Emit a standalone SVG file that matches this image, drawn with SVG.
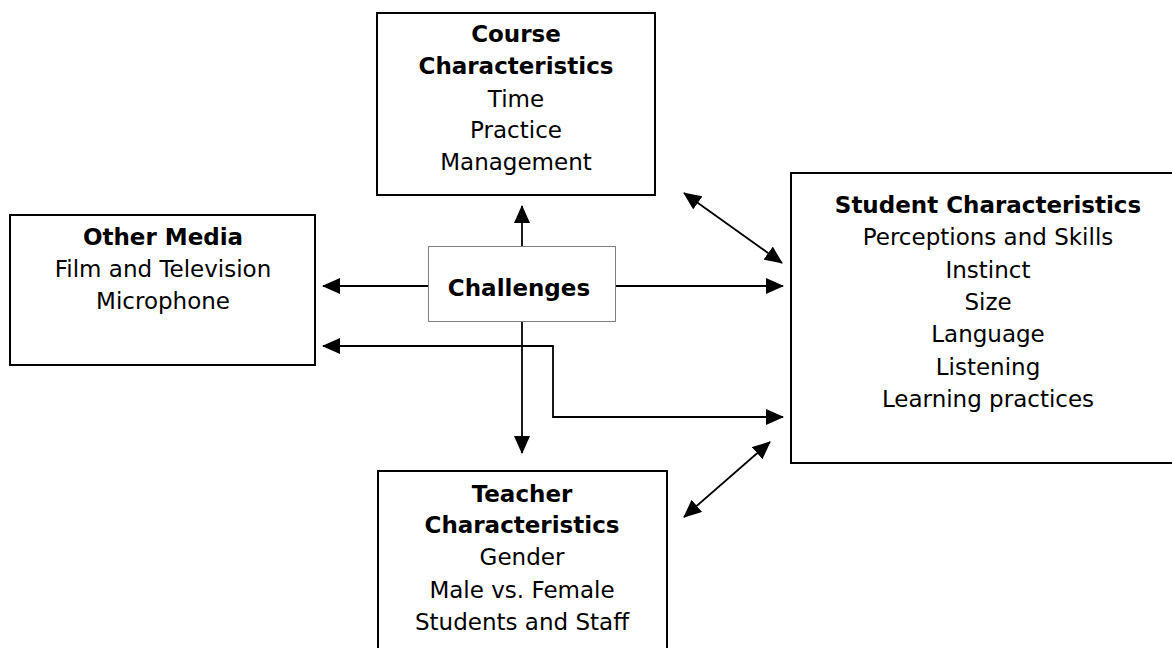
<svg xmlns="http://www.w3.org/2000/svg" width="1172" height="648" viewBox="0 0 1172 648">
<style>
.box{fill:#fff;stroke:#000;stroke-width:2}
.hub{fill:#fff;stroke:#808080;stroke-width:1}
text{font-family:"DejaVu Sans","Verdana",sans-serif;font-size:23px;fill:#000;text-anchor:middle}
.b{font-weight:bold}
.c{fill:none;stroke:#000;stroke-width:1.8}
</style>
<defs>
<marker id="ah" markerUnits="userSpaceOnUse" markerWidth="18" markerHeight="16" refX="17" refY="8" orient="auto-start-reverse" viewBox="0 0 18 16">
<path d="M0,0 L18,8 L0,16 z" fill="#000"/>
</marker>
</defs>
<rect width="1172" height="648" fill="#fff"/>
<g id="connectors">
<line class="c" x1="522" y1="246" x2="522" y2="206" marker-end="url(#ah)"/>
<line class="c" x1="428" y1="286" x2="323" y2="286" marker-end="url(#ah)"/>
<line class="c" x1="616" y1="286" x2="783" y2="286" marker-end="url(#ah)"/>
<line class="c" x1="522" y1="321" x2="522" y2="453" marker-end="url(#ah)"/>
<polyline class="c" points="323,346 553,346 553,417 783,417" marker-start="url(#ah)" marker-end="url(#ah)"/>
<line class="c" x1="684" y1="193" x2="782" y2="263" marker-start="url(#ah)" marker-end="url(#ah)"/>
<line class="c" x1="770" y1="442" x2="684" y2="517" marker-start="url(#ah)" marker-end="url(#ah)"/>
</g>
<g id="course">
<rect class="box" x="377" y="13" width="278" height="182"/>
<text x="516" y="42" class="b">Course</text>
<text x="516" y="74" class="b">Characteristics</text>
<text x="516" y="107">Time</text>
<text x="516" y="138">Practice</text>
<text x="516" y="170">Management</text>
</g>
<g id="other-media">
<rect class="box" x="10" y="215" width="305" height="150"/>
<text x="163" y="245" class="b">Other Media</text>
<text x="163" y="277">Film and Television</text>
<text x="163" y="309">Microphone</text>
</g>
<g id="challenges">
<rect class="hub" x="428.5" y="246.5" width="187" height="75"/>
<text x="519" y="296" class="b">Challenges</text>
</g>
<g id="student">
<rect class="box" x="791" y="173" width="400" height="290"/>
<text x="988" y="213" class="b">Student Characteristics</text>
<text x="988" y="245">Perceptions and Skills</text>
<text x="988" y="278">Instinct</text>
<text x="988" y="310">Size</text>
<text x="988" y="342">Language</text>
<text x="988" y="375">Listening</text>
<text x="988" y="407">Learning practices</text>
</g>
<g id="teacher">
<rect class="box" x="378" y="471" width="289" height="200"/>
<text x="522" y="502" class="b">Teacher</text>
<text x="522" y="533" class="b">Characteristics</text>
<text x="522" y="565">Gender</text>
<text x="522" y="598">Male vs. Female</text>
<text x="522" y="630">Students and Staff</text>
</g>
</svg>
